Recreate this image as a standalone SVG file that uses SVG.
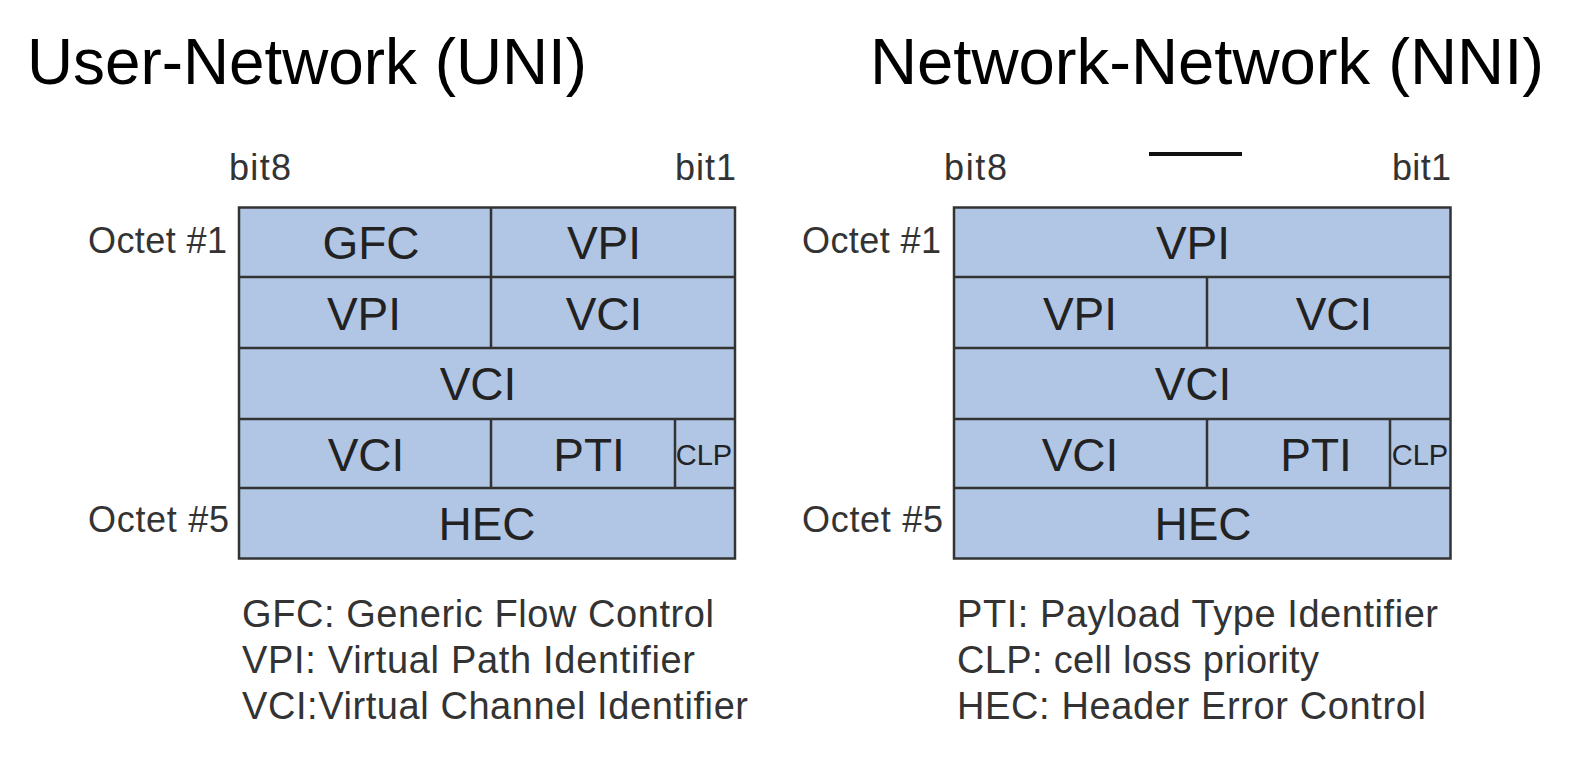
<svg xmlns="http://www.w3.org/2000/svg" width="1572" height="758" viewBox="0 0 1572 758">
<style>
.title{font-family:"Liberation Sans",Arial,sans-serif;font-size:64px;fill:#000}
.small{font-family:"Liberation Sans",Arial,sans-serif;font-size:36px;fill:#333}
.legend{font-family:"Liberation Sans",Arial,sans-serif;font-size:38px;fill:#333}
.cell{fill:#b1c6e4;stroke:#333;stroke-width:2.5}
.lbl{font-family:"Liberation Sans",Arial,sans-serif;font-size:46px;fill:#222;text-anchor:middle}
.clp{font-family:"Liberation Sans",Arial,sans-serif;font-size:29px;fill:#222;text-anchor:middle}
.div{stroke:#333;stroke-width:2.5;fill:none}
</style>
<rect width="1572" height="758" fill="#fff"/>
<g id="titles">
<text class="title" x="27" y="84" textLength="560" lengthAdjust="spacingAndGlyphs">User-Network (UNI)</text>
<text class="title" x="870" y="84" textLength="674" lengthAdjust="spacingAndGlyphs">Network-Network (NNI)</text>
<line x1="1149" y1="154" x2="1242" y2="154" stroke="#111" stroke-width="4"/>
</g>
<g id="uni">
<text class="small" x="229" y="180" textLength="62">bit8</text>
<text class="small" x="675" y="180" textLength="61">bit1</text>
<text class="small" x="88" y="253" textLength="139">Octet #1</text>
<text class="small" x="88" y="532" textLength="141">Octet #5</text>
<rect class="cell" x="239" y="207.5" width="496" height="351"/>
<path class="div" d="M239 277H735M239 348H735M239 419H735M239 488H735M491 207.5V348M491 419V488M675 419V488"/>
<text class="lbl" x="371" y="259">GFC</text>
<text class="lbl" x="604" y="259">VPI</text>
<text class="lbl" x="364" y="330">VPI</text>
<text class="lbl" x="604" y="330">VCI</text>
<text class="lbl" x="478" y="400">VCI</text>
<text class="lbl" x="366" y="471">VCI</text>
<text class="lbl" x="589" y="471">PTI</text>
<text class="clp" x="704" y="465">CLP</text>
<text class="lbl" x="487" y="540">HEC</text>
<text class="legend" x="242" y="627" textLength="472">GFC: Generic Flow Control</text>
<text class="legend" x="242" y="673" textLength="453">VPI: Virtual Path Identifier</text>
<text class="legend" x="242" y="719" textLength="506">VCI:Virtual Channel Identifier</text>
</g>
<g id="nni">
<text class="small" x="944" y="180" textLength="63">bit8</text>
<text class="small" x="1392" y="180" textLength="59">bit1</text>
<text class="small" x="802" y="253" textLength="139">Octet #1</text>
<text class="small" x="802" y="532" textLength="141">Octet #5</text>
<rect class="cell" x="954" y="207.5" width="496.5" height="351"/>
<path class="div" d="M954 277H1450.5M954 348H1450.5M954 419H1450.5M954 488H1450.5M1207 277V348M1207 419V488M1390 419V488"/>
<text class="lbl" x="1193" y="259">VPI</text>
<text class="lbl" x="1080" y="330">VPI</text>
<text class="lbl" x="1334" y="330">VCI</text>
<text class="lbl" x="1193" y="400">VCI</text>
<text class="lbl" x="1080" y="471">VCI</text>
<text class="lbl" x="1316" y="471">PTI</text>
<text class="clp" x="1420" y="465">CLP</text>
<text class="lbl" x="1203" y="540">HEC</text>
<text class="legend" x="957" y="627" textLength="481">PTI: Payload Type Identifier</text>
<text class="legend" x="957" y="673" textLength="362">CLP: cell loss priority</text>
<text class="legend" x="957" y="719" textLength="469">HEC: Header Error Control</text>
</g>
</svg>
